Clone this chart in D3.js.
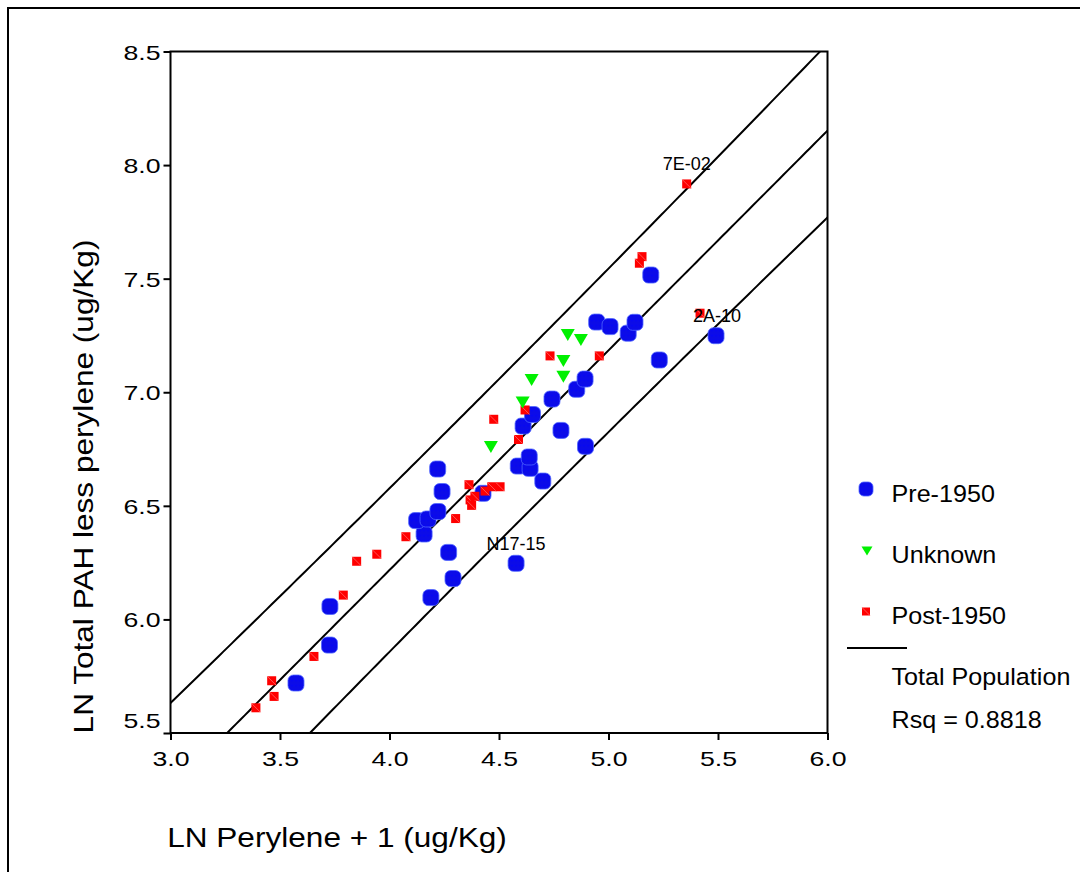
<!DOCTYPE html>
<html>
<head>
<meta charset="utf-8">
<script src="https://cdn.jsdelivr.net/npm/d3@7/dist/d3.min.js"></script>
<style>
  html, body { margin: 0; padding: 0; background: #fff; }
  svg { display: block; font-family: "Liberation Sans", Arial, Helvetica, sans-serif; }
</style>
</head>
<body>
<svg id="chart" width="1080" height="872"></svg>
<script>
// ---- data: LN perylene + 1 (x) vs LN total PAH less perylene (y) ----
const pre1950X = [3.573, 3.726, 3.728, 4.189, 4.290, 4.270, 4.578, 4.158, 4.124, 4.176, 4.221,
                  4.240, 4.220, 4.427, 4.700, 4.588, 4.642, 4.638, 4.783, 4.895, 4.610, 4.653,
                  4.742, 4.855, 4.893, 4.946, 5.007, 5.090, 5.121, 5.232, 5.193, 5.491];
const pre1950Y = [5.720, 5.887, 6.057, 6.096, 6.180, 6.295, 6.247, 6.376, 6.435, 6.442, 6.475,
                  6.563, 6.662, 6.555, 6.609, 6.675, 6.665, 6.715, 6.832, 6.762, 6.851, 6.902,
                  6.970, 7.013, 7.058, 7.309, 7.289, 7.260, 7.308, 7.142, 7.516, 7.249];

const unknownX = [4.814, 4.874, 4.794, 4.794, 4.649, 4.608, 4.463];
const unknownY = [7.252, 7.230, 7.138, 7.068, 7.054, 6.955, 6.759];

const post1950X = [3.390, 3.462, 3.473, 3.655, 3.789, 3.850, 3.942, 4.075, 4.302, 4.363, 4.368,
                   4.390, 4.375, 4.436, 4.467, 4.505, 4.476, 4.589, 4.619, 4.733, 4.958, 5.141,
                   5.153, 5.357, 5.418];
const post1950Y = [5.611, 5.730, 5.661, 5.837, 6.107, 6.256, 6.287, 6.364, 6.444, 6.593, 6.526,
                   6.542, 6.502, 6.565, 6.584, 6.584, 6.881, 6.792, 6.922, 7.160, 7.160, 7.568,
                   7.597, 7.917, 7.348];

// labelled samples: series name and index into that series
const pointLabels = [
  { text: "7E-02",  series: "Post-1950", index: 23 },
  { text: "2A-10",  series: "Post-1950", index: 24 },
  { text: "N17-15", series: "Pre-1950",  index: 6 }
];

// fitted line for the total population and its individual prediction band
const fitIntercept = 2.348;
const fitSlope = 0.9673;
const bandHalfWidth = 0.357;
const bandSpread = 0.065;
const bandCentreX = 4.5;
const rsqText = "Rsq = 0.8818";

const xTicks = [3.0, 3.5, 4.0, 4.5, 5.0, 5.5, 6.0];
const yTicks = [5.5, 6.0, 6.5, 7.0, 7.5, 8.0, 8.5];
const xTitle = "LN Perylene + 1 (ug/Kg)";
const yTitle = "LN Total PAH less perylene (ug/Kg)";
const legendNames = ["Pre-1950", "Unknown", "Post-1950", "Total Population"];

// ---- layout ----
const svg = d3.select("#chart");
const plot = { left: 170.5, right: 827.5, top: 51.5, bottom: 733 };

const x = d3.scaleLinear().domain([3, 6]).range([plot.left, plot.right]);
const y = d3.scaleLinear().domain([5.5, 8.5]).range([plot.bottom, plot.top]);

const series = {
  "Pre-1950":  pre1950X.map((v, i) => ({ x: v, y: pre1950Y[i] })),
  "Unknown":   unknownX.map((v, i) => ({ x: v, y: unknownY[i] })),
  "Post-1950": post1950X.map((v, i) => ({ x: v, y: post1950Y[i] }))
};

const defs = svg.append("defs");
defs.append("clipPath").attr("id", "plotClip")
  .append("rect")
  .attr("x", plot.left).attr("y", plot.top)
  .attr("width", plot.right - plot.left).attr("height", plot.bottom - plot.top);

// woven texture used by the Pre-1950 markers
const weave = defs.append("pattern").attr("id", "weave")
  .attr("patternUnits", "userSpaceOnUse").attr("width", 4).attr("height", 5);
weave.append("rect").attr("width", 4).attr("height", 5).attr("fill", "#0000ff");
weave.append("path").attr("d", "M0,0 L1,5 L2,0 L3,5 L4,0")
  .attr("fill", "none").attr("stroke", "#1414d6").attr("stroke-width", 0.6);

// outer page frame (left and top edges)
svg.append("path")
  .attr("d", "M8,872 V8 H1080")
  .attr("fill", "none").attr("stroke", "#000").attr("stroke-width", 2);

// ---- marker drawing helpers ----
function drawCircleMarker(g, cx, cy, size) {
  g.append("rect")
    .attr("x", cx - size / 2).attr("y", cy - size / 2)
    .attr("width", size).attr("height", size)
    .attr("rx", size * 0.34).attr("ry", size * 0.34)
    .attr("fill", "url(#weave)")
    .attr("stroke", "#4f66ff").attr("stroke-width", 0.8);
}
function drawTriangleMarker(g, cx, cy, w, h) {
  g.append("path")
    .attr("d", `M${cx - w / 2},${cy - h / 2} L${cx + w / 2},${cy - h / 2} L${cx},${cy + h / 2} Z`)
    .attr("fill", "#00f000");
}
function drawSquareMarker(g, cx, cy, size) {
  g.append("rect")
    .attr("x", cx - size / 2).attr("y", cy - size / 2)
    .attr("width", size).attr("height", size)
    .attr("fill", "#ff0000");
  g.append("line")
    .attr("x1", cx - size / 2).attr("y1", cy - size / 2)
    .attr("x2", cx + size / 2).attr("y2", cy + size / 2)
    .attr("stroke", "#ff8a8a").attr("stroke-width", 0.6);
}

// ---- fit line and prediction band ----
const fitG = svg.append("g").attr("clip-path", "url(#plotClip)");
const sampleX = d3.range(2.9, 6.1001, 0.02);
const fitAt = v => fitIntercept + fitSlope * v;
const halfAt = v => bandHalfWidth * Math.sqrt(1 + bandSpread * (v - bandCentreX) ** 2);
const line = d3.line().x(d => x(d[0])).y(d => y(d[1]));

[0, 1, -1].forEach(k => {
  fitG.append("path")
    .attr("d", line(sampleX.map(v => [v, fitAt(v) + k * halfAt(v)])))
    .attr("fill", "none").attr("stroke", "#000").attr("stroke-width", 2);
});

// ---- points ----
const ptsG = svg.append("g").attr("clip-path", "url(#plotClip)");
series["Pre-1950"].forEach(d => drawCircleMarker(ptsG, x(d.x), y(d.y), 16));
series["Post-1950"].forEach(d => drawSquareMarker(ptsG, x(d.x), y(d.y), 9));
series["Unknown"].forEach(d => drawTriangleMarker(ptsG, x(d.x), y(d.y), 14, 12));

// ---- point labels ----
const labelPlacement = { "2A-10": "right" };
pointLabels.forEach(l => {
  const d = series[l.series][l.index];
  const px = x(d.x), py = y(d.y);
  const t = svg.append("text").text(l.text)
    .attr("font-size", 18).attr("fill", "#000");
  if (labelPlacement[l.text] === "right") {
    t.attr("x", px - 7).attr("y", py + 8.5).attr("text-anchor", "start");
  } else {
    t.attr("x", px).attr("y", py - 13.5).attr("text-anchor", "middle");
  }
});

// ---- axes ----
const tickStretch = 1.27;
const yAxisG = svg.append("g")
  .attr("transform", `translate(${plot.left},0)`)
  .call(d3.axisLeft(y).tickValues(yTicks).tickSize(7).tickFormat(d3.format(".1f")));
const xAxisG = svg.append("g")
  .attr("transform", `translate(0,${plot.bottom})`)
  .call(d3.axisBottom(x).tickValues(xTicks).tickSize(7).tickFormat(d3.format(".1f")));

[xAxisG, yAxisG].forEach(g => {
  g.select(".domain").remove();
  g.selectAll(".tick line").attr("stroke", "#000").attr("stroke-width", 2);
  g.selectAll(".tick text")
    .attr("font-family", "'Liberation Sans', Arial, sans-serif")
    .attr("font-size", 21).attr("fill", "#000");
});
yAxisG.selectAll(".tick text")
  .attr("x", -10 / tickStretch)
  .attr("dy", null)
  .attr("y", d => Math.min(y(d), plot.bottom - 13) - y(d) + 7.5)
  .attr("transform", `scale(${tickStretch},1)`);
xAxisG.selectAll(".tick text")
  .attr("dy", null)
  .attr("y", 33.5)
  .attr("x", 0)
  .attr("transform", `scale(${tickStretch},1)`);

// plot frame
svg.append("rect")
  .attr("x", plot.left).attr("y", plot.top)
  .attr("width", plot.right - plot.left).attr("height", plot.bottom - plot.top)
  .attr("fill", "none").attr("stroke", "#000").attr("stroke-width", 2);

// ---- axis titles ----
const titleStretch = 1.17;
svg.append("text")
  .attr("transform", `translate(337,847) scale(${titleStretch},1)`)
  .attr("text-anchor", "middle").attr("font-size", 27).attr("fill", "#000")
  .text(xTitle);
svg.append("text")
  .attr("transform", `translate(93,486.5) rotate(-90) scale(${titleStretch},1)`)
  .attr("text-anchor", "middle").attr("font-size", 27).attr("fill", "#000")
  .text(yTitle);

// ---- legend ----
const legendStretch = 1.07;
const lg = svg.append("g");
drawCircleMarker(lg, 866, 489, 14);
drawTriangleMarker(lg, 867, 551, 11, 9);
drawSquareMarker(lg, 866, 611.5, 8);
const legendBaselines = [501.5, 563, 623.5, 685];
legendNames.forEach((name, i) => {
  lg.append("text")
    .attr("transform", `translate(891.5,${legendBaselines[i]}) scale(${legendStretch},1)`)
    .attr("font-size", 23.5).attr("fill", "#000").text(name);
});
lg.append("line").attr("x1", 847).attr("x2", 907).attr("y1", 648).attr("y2", 648)
  .attr("stroke", "#000").attr("stroke-width", 2);
lg.append("text")
  .attr("transform", `translate(891.5,728) scale(${legendStretch},1)`)
  .attr("font-size", 23.5).attr("fill", "#000").text(rsqText);
</script>
</body>
</html>
